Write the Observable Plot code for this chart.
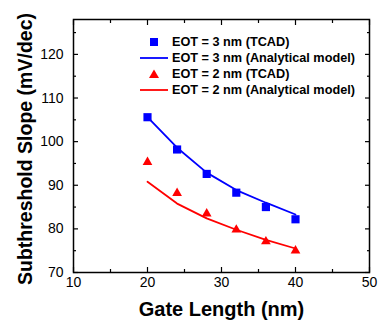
<!DOCTYPE html>
<html><head><meta charset="utf-8">
<script src="https://cdn.jsdelivr.net/npm/d3@7"></script>
<script src="https://cdn.jsdelivr.net/npm/@observablehq/plot@0.6"></script>
<style>
body{margin:0;background:#fff;font-family:"Liberation Sans",Arial,sans-serif;}
#wrap{position:relative;width:384px;height:327px;}
#legend{position:absolute;left:138px;top:34px;font:bold 12.7px "Liberation Sans",Arial,sans-serif;color:#000;}
#legend .row{display:flex;align-items:center;height:16px;}
#legend svg{width:32px;height:16px;margin-right:2px;}
</style></head>
<body><div id="wrap"><div id="chart"></div><div id="legend"></div></div>
<script>
const gateLength = [20, 24, 28, 32, 36, 40];
const eot3Tcad = [105.6, 98.2, 92.6, 88.3, 85.0, 82.2];
const eot3Model = [105.6, 98.6, 92.9, 88.9, 86.0, 83.3];
const eot2Tcad = [95.3, 88.2, 83.5, 79.8, 77.1, 75.0];
const eot2Model = [90.8, 85.8, 82.4, 79.8, 77.5, 75.5];
const xMajor = [10, 20, 30, 40, 50];
const xMinor = [15, 25, 35, 45];
const yMajor = [70, 80, 90, 100, 110, 120];
const yMinor = [75, 85, 95, 105, 115, 125];
const legendLabels = ["EOT = 3 nm (TCAD)", "EOT = 3 nm (Analytical model)", "EOT = 2 nm (TCAD)", "EOT = 2 nm (Analytical model)"];
const blue = "#0000ff", red = "#ff0000";

const toRows = (ys) => gateLength.map((x, i) => ({x, y: ys[i]}));
const s3 = toRows(eot3Tcad), m3 = toRows(eot3Model), s2 = toRows(eot2Tcad), m2 = toRows(eot2Model);

const chart = Plot.plot({
  width: 384, height: 327,
  marginLeft: 73, marginRight: 15, marginTop: 19, marginBottom: 55,
  style: {fontFamily: "'Liberation Sans', Arial, sans-serif", color: "#000", background: "#fff"},
  x: {domain: [10, 50]},
  y: {domain: [70, 128]},
  marks: [
    Plot.axisX(xMajor, {anchor: "bottom", tickSize: -5, tickPadding: 10, fontSize: 14, label: null, strokeWidth: 1.2}),
    Plot.axisX(xMinor, {anchor: "bottom", tickSize: -3, tickFormat: () => "", label: null, strokeWidth: 1.2}),
    Plot.axisX(xMajor, {anchor: "top", tickSize: -5, tickFormat: () => "", label: null, strokeWidth: 1.2}),
    Plot.axisX(xMinor, {anchor: "top", tickSize: -3, tickFormat: () => "", label: null, strokeWidth: 1.2}),
    Plot.axisY(yMajor, {anchor: "left", tickSize: -5, tickPadding: 15, fontSize: 14, label: null, strokeWidth: 1.2}),
    Plot.axisY(yMinor, {anchor: "left", tickSize: -3, tickFormat: () => "", label: null, strokeWidth: 1.2}),
    Plot.axisY(yMajor, {anchor: "right", tickSize: -5, tickFormat: () => "", label: null, strokeWidth: 1.2}),
    Plot.axisY(yMinor, {anchor: "right", tickSize: -3, tickFormat: () => "", label: null, strokeWidth: 1.2}),
    Plot.frame({stroke: "#000", strokeWidth: 1.5}),
    Plot.line(m3, {x: "x", y: "y", stroke: blue, strokeWidth: 1.8}),
    Plot.line(m2, {x: "x", y: "y", stroke: red, strokeWidth: 1.8}),
    Plot.dot(s3, {x: "x", y: "y", symbol: "square", r: 4.6, fill: blue, stroke: "none"}),
    Plot.dot(s2, {x: "x", y: "y", symbol: "triangle", r: 3.6, fill: red, stroke: "none"}),
    Plot.text(["Gate Length (nm)"], {frameAnchor: "bottom", dy: 43, lineAnchor: "bottom", fontSize: 20, fontWeight: "bold"}),
    Plot.text(["Subthreshold Slope (mV/dec)"], {frameAnchor: "left", dx: -48, dy: 3, rotate: -90, textAnchor: "middle", lineAnchor: "middle", fontSize: 19.5, fontWeight: "bold"})
  ]
});
document.getElementById("chart").appendChild(chart);

const leg = document.getElementById("legend");
const sym = [
  `<svg><rect x="12" y="4" width="8" height="8" fill="${blue}"/></svg>`,
  `<svg><line x1="2" x2="30" y1="8" y2="8" stroke="${blue}" stroke-width="1.8"/></svg>`,
  `<svg><path d="M16,3.5L21,12L11,12Z" fill="${red}"/></svg>`,
  `<svg><line x1="2" x2="30" y1="8" y2="8" stroke="${red}" stroke-width="1.8"/></svg>`
];
legendLabels.forEach((t, i) => {
  const r = document.createElement("div");
  r.className = "row";
  r.innerHTML = sym[i] + `<span>${t}</span>`;
  leg.appendChild(r);
});
</script></body></html>
